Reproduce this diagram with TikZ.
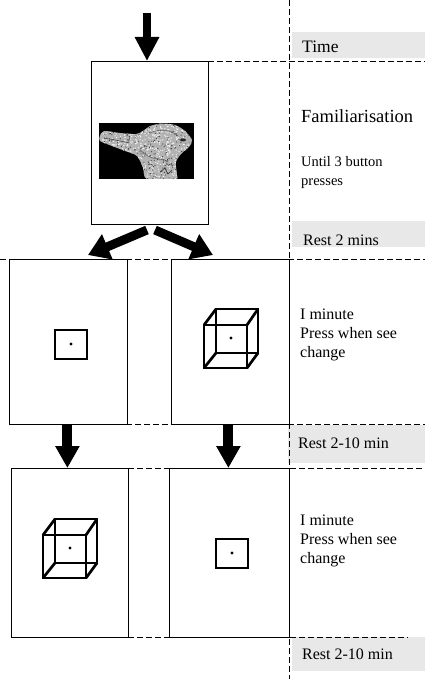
\documentclass[tikz,border=0pt]{standalone}
\usepackage{fontspec}
\setmainfont{Liberation Serif}
\usetikzlibrary{arrows.meta,calc}
\definecolor{restgray}{HTML}{E8E8E8}
\begin{document}
\begin{tikzpicture}[x=1pt,y=-1pt,
  frame/.style={draw, line width=0.8pt, fill=white, inner sep=0pt, anchor=north west},
  sep/.style={dash pattern=on 6pt off 3pt, line width=0.8pt},
  lbl/.style={anchor=base west, inner sep=0pt, align=left},
  big/.style={font=\fontsize{18.5}{22}\selectfont},
  mid/.style={font=\fontsize{16}{19}\selectfont},
  small/.style={font=\fontsize{14.5}{18}\selectfont},
  stim/.style={line width=2.7pt},
  downarrow/.style={line width=8pt, -{Triangle[length=24pt,width=23pt]}},
  splitarrow/.style={line width=9pt, -{Triangle[length=21pt,width=26pt]}},
  rowarrow/.style={line width=10pt, -{Triangle[length=22pt,width=23pt]}},
  necker/.pic={
    \draw[stim] (-27,-13) rectangle (16,30);
    \draw[stim] (-15,-29) rectangle (27,15);
    \draw[stim] (-27,-13) -- (-15,-29) (16,-13) -- (27,-29)
                (16,30) -- (27,15) (-27,30) -- (-15,15);
    \fill (0,0) circle (1.6);
  },
  sqstim/.pic={
    \draw[stim] (-16,-14) rectangle (16,15);
    \fill (0,0) circle (1.6);
  }
]
\useasboundingbox (0,0) rectangle (425,679);

% grey time bands
\fill[restgray] (292,32) rectangle (425,58);
\fill[restgray] (292,221) rectangle (425,247);
\fill[restgray] (288,425) rectangle (425,463);
\fill[restgray] (292,637) rectangle (425,671);

% dashed separators
\draw[sep] (289,0) -- (289,679);
\draw[sep] (208,61) -- (425,61);
\draw[sep] (0,259) -- (425,259);
\draw[sep] (9,424) -- (425,424);
\draw[sep] (128,468) -- (425,468);
\draw[sep] (11,637) -- (408,637);

% screens
\node[frame, minimum width=117pt, minimum height=163pt] (fam) at (91,61) {};
\node[frame, minimum width=118pt, minimum height=165pt] (a1) at (9,259) {};
\node[frame, minimum width=118pt, minimum height=165pt] (b1) at (171,259) {};
\node[frame, minimum width=117pt, minimum height=169pt] (a2) at (11,468) {};
\node[frame, minimum width=120pt, minimum height=169pt] (b2) at (169,468) {};

% duck-rabbit picture
\fill[black] (99,123) rectangle (194,179);
\begin{scope}
  \clip plot[smooth cycle] coordinates {(100,136) (104,131) (120,133) (136,134) (143,131)
  (150,126) (162,123.5) (175,125) (185,131) (192,140) (189,147) (182,153)
  (176,162) (177,175) (175,179) (147,179) (143,168) (137,156) (125,151)
  (112,146) (100,141)};
  \fill[gray!60] (99,123) rectangle (194,179);
  \pgfmathsetseed{7}
  \foreach \i in {1,...,700} {
    \pgfmathsetmacro\px{99+95*rnd}
    \pgfmathsetmacro\py{123+56*rnd}
    \fill[white!90!gray] (\px,\py) circle (0.7);
  }
  \foreach \i in {1,...,350} {
    \pgfmathsetmacro\px{99+95*rnd}
    \pgfmathsetmacro\py{123+56*rnd}
    \fill[black!75] (\px,\py) circle (0.6);
  }
  \fill[black!85] (183,140) ellipse (3 and 1.6);
  \draw[black!70, line width=0.6pt] (104,138) .. controls (115,140) .. (130,143);
  \draw[black!60, line width=0.6pt] (150,133) .. controls (160,128) and (172,130) .. (178,136);
  \draw[black!80, line width=0.7pt] (160,172) -- (165,168) -- (168,174) -- (172,170);
  \draw[black!60, line width=0.6pt] (140,150) .. controls (150,158) .. (165,160);
\end{scope}

% stimuli
\pic at (71,344) {sqstim};
\pic at (231,338) {necker};
\pic at (70,548) {necker};
\pic at (232,553) {sqstim};

% arrows
\coordinate (topstart) at (147,13);
\draw[downarrow] (topstart) -- (topstart |- fam.north);
\coordinate (ltail) at (147,230);
\coordinate (ltip) at (88,255);
\coordinate (rtail) at (155,230);
\coordinate (rtip) at (213,255);
\draw[splitarrow] (ltail) -- (ltip);
\draw[splitarrow] (rtail) -- (rtip);
\coordinate (d1) at ($(a1.south)+(-1,0)$);
\coordinate (d2) at ($(b1.south)+(-2,0)$);
\draw[rowarrow] (d1) -- (d1 |- a2.north);
\draw[rowarrow] (d2) -- (d2 |- b2.north);

% labels (base anchor of a multi-line node = its last line)
\node[lbl, font=\fontsize{17.5}{20}\selectfont] (time) at (302,53) {Time};
\node[lbl, big] (famlbl) at (301,123) {Familiarisation};
\node[lbl, small] (until) at (301,185) {Until 3 button\\presses};
\node[lbl, mid] (rest1) at (303,245) {Rest 2 mins};
\node[lbl, mid] (inst1) at (300,357) {I minute\\Press when see\\change};
\node[lbl, mid] (rest2) at (298,448) {Rest 2-10 min};
\node[lbl, mid] (inst2) at (300,563) {I minute\\Press when see\\change};
\node[lbl, mid] (rest3) at (302,659) {Rest 2-10 min};
\end{tikzpicture}
\end{document}
